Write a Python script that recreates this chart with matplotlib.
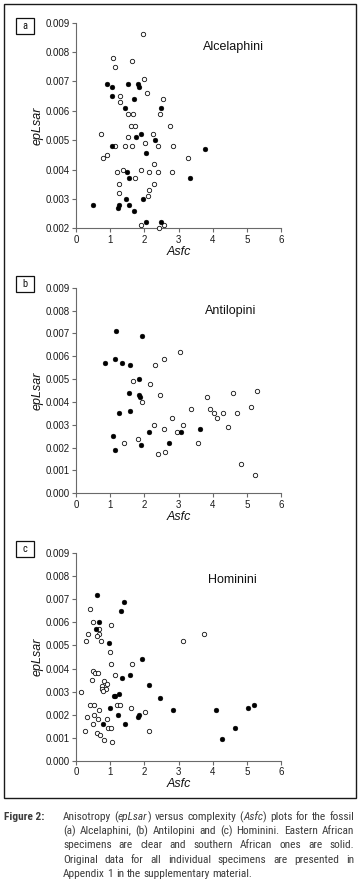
import matplotlib
matplotlib.use("Agg")
import matplotlib.pyplot as plt
from matplotlib.patches import Rectangle
from matplotlib import font_manager
from matplotlib.font_manager import FontProperties
import os

# ---------------- data ----------------
tribes = ["Alcelaphini", "Antilopini", "Hominini"]
panel_letters = ["a", "b", "c"]

a_east_x = [1.95, 1.07, 1.15, 1.63, 1.98, 2.07, 1.28, 1.28, 2.56, 1.51, 1.66, 2.45, 1.60, 1.74, 2.75,
            0.73, 2.25, 1.51, 2.01, 1.13, 1.42, 1.64, 2.40, 2.85, 0.91, 0.78, 3.28, 2.27, 1.39, 1.89,
            1.21, 2.13, 2.40, 2.82, 1.74, 1.27, 2.27, 2.13, 1.26, 2.11, 1.91, 2.57, 2.43]
a_east_y = [0.0086, 0.0078, 0.0075, 0.0077, 0.0071, 0.0066, 0.0065, 0.0063, 0.0064, 0.0059, 0.0059,
            0.0059, 0.0055, 0.0055, 0.0055, 0.0052, 0.0052, 0.0051, 0.0049, 0.0048, 0.0048, 0.0048,
            0.0048, 0.0048, 0.0045, 0.0044, 0.0044, 0.0042, 0.0040, 0.0040, 0.0039, 0.0039, 0.0039,
            0.0039, 0.0037, 0.0035, 0.0035, 0.0033, 0.0032, 0.0031, 0.0021, 0.0021, 0.0020]
a_south_x = [0.91, 1.06, 1.53, 1.81, 1.84, 1.05, 1.69, 1.43, 2.49, 1.89, 1.76, 2.30, 1.05, 3.77,
             2.04, 1.49, 1.54, 3.34, 0.50, 1.46, 1.95, 1.25, 1.23, 1.54, 1.69, 2.06, 2.50]
a_south_y = [0.0069, 0.0068, 0.0069, 0.0069, 0.0068, 0.0065, 0.0064, 0.0061, 0.0061, 0.0052, 0.0051,
             0.0050, 0.0048, 0.0047, 0.00455, 0.0039, 0.0037, 0.0037, 0.0028, 0.0030, 0.0030,
             0.0028, 0.0027, 0.0028, 0.0026, 0.0022, 0.0022]

b_east_x = [3.04, 2.32, 2.58, 1.68, 2.16, 1.94, 2.47, 4.59, 5.29, 3.83, 3.36, 3.92, 4.05, 4.29, 4.14,
            4.70, 5.13, 2.80, 2.27, 3.13, 4.46, 2.59, 2.97, 1.80, 1.41, 3.56, 2.41, 2.60, 4.82, 5.23]
b_east_y = [0.0062, 0.0056, 0.0059, 0.0049, 0.0048, 0.0040, 0.0043, 0.0044, 0.0045, 0.0042, 0.0037,
            0.0037, 0.0035, 0.0035, 0.0033, 0.0035, 0.0038, 0.0033, 0.0030, 0.0030, 0.0029, 0.0028,
            0.0027, 0.0024, 0.0022, 0.0022, 0.0017, 0.0018, 0.0013, 0.0008]
b_south_x = [1.18, 1.92, 0.86, 1.15, 1.35, 1.59, 1.83, 1.54, 1.84, 1.87, 1.27, 1.58, 3.63, 2.14,
             3.07, 1.07, 2.73, 1.90, 1.15]
b_south_y = [0.0071, 0.0069, 0.0057, 0.0059, 0.0057, 0.0056, 0.0050, 0.0044, 0.0043, 0.0042, 0.0035,
             0.0036, 0.0028, 0.0027, 0.0027, 0.0025, 0.0022, 0.0021, 0.0019]

c_east_x = [0.40, 0.50, 1.02, 0.66, 0.66, 0.35, 0.61, 0.30, 0.74, 3.12, 3.75, 1.00, 1.03, 1.64, 0.49,
            0.57, 0.64, 1.13, 0.46, 0.83, 0.90, 0.77, 0.87, 0.76, 0.80, 0.14, 0.42, 0.54, 1.21, 1.28,
            1.61, 0.68, 2.02, 0.54, 0.32, 0.64, 0.91, 0.51, 0.93, 1.01, 0.25, 2.13, 0.60, 0.69, 0.81,
            1.05]
c_east_y = [0.0066, 0.0060, 0.0059, 0.0057, 0.0055, 0.0055, 0.0054, 0.0052, 0.0052, 0.0052, 0.0055,
            0.0047, 0.0042, 0.0042, 0.0039, 0.0038, 0.0038, 0.0037, 0.0035, 0.00345, 0.00335,
            0.00323, 0.00313, 0.0031, 0.00304, 0.0030, 0.0024, 0.0024, 0.0024, 0.0024, 0.0023,
            0.0022, 0.0021, 0.0020, 0.0019, 0.0018, 0.0018, 0.0016, 0.0014, 0.0014, 0.0013, 0.0013,
            0.0012, 0.0011, 0.0009, 0.0008]
c_south_x = [0.60, 1.41, 1.33, 0.67, 0.58, 0.97, 1.92, 1.57, 1.35, 2.14, 1.25, 1.12, 1.15, 2.46,
             1.00, 2.85, 4.10, 5.02, 5.21, 1.23, 1.85, 1.82, 0.80, 1.43, 4.66, 4.26]
c_south_y = [0.0072, 0.0069, 0.0065, 0.0060, 0.0057, 0.0051, 0.0044, 0.0037, 0.0036, 0.0033, 0.0029,
             0.0028, 0.0028, 0.0027, 0.0023, 0.0022, 0.0022, 0.0023, 0.0024, 0.0020, 0.0020, 0.0019,
             0.0016, 0.0016, 0.0014, 0.00095]

x_ticks = [0, 1, 2, 3, 4, 5, 6]
a_y_ticks = [0.002, 0.003, 0.004, 0.005, 0.006, 0.007, 0.008, 0.009]
bc_y_ticks = [0.000, 0.001, 0.002, 0.003, 0.004, 0.005, 0.006, 0.007, 0.008, 0.009]
x_label = "Asfc"
y_label = "epLsar"

caption_head = "Figure 2:"
caption_lines = [
    [("Anisotropy (", "n"), ("epLsar", "i"), (") versus complexity (", "n"), ("Asfc", "i"),
     (") plots for the fossil", "n")],
    [("(a) Alcelaphini, (b) Antilopini and (c) Hominini. Eastern African", "n")],
    [("specimens are clear and southern African ones are solid.", "n")],
    [("Original data for all individual specimens are presented in", "n")],
    [("Appendix 1 in the supplementary material.", "n")],
]

# ---------------- fonts ----------------
FONT = "Liberation Sans"
by_base = {}
for f in font_manager.fontManager.ttflist:
    by_base.setdefault(os.path.basename(f.fname).lower(), f.fname)

narrow_sets = [
    ("LiberationSansNarrow-Regular.ttf", "LiberationSansNarrow-Italic.ttf", "LiberationSansNarrow-Bold.ttf"),
    ("ArchivoNarrow-Regular.ttf", "ArchivoNarrow-Italic.ttf", "ArchivoNarrow-Bold.ttf"),
    ("RobotoCondensed-Regular.ttf", "RobotoCondensed-Italic.ttf", "RobotoCondensed-Bold.ttf"),
    ("PTSansNarrow-Regular.ttf", "PTSans-Italic.ttf", "PTSansNarrow-Bold.ttf"),
    ("FiraSansCondensed-Regular.ttf", "FiraSansCondensed-Italic.ttf", "FiraSansCondensed-Bold.ttf"),
    ("IBMPlexSansCondensed-Regular.ttf", "IBMPlexSansCondensed-Italic.ttf", "IBMPlexSansCondensed-Bold.ttf"),
    ("NotoSans-Condensed.ttf", "NotoSans-CondensedItalic.ttf", "NotoSans-CondensedBold.ttf"),
    ("DejaVuSansCondensed.ttf", "DejaVuSansCondensed-Oblique.ttf", "DejaVuSansCondensed-Bold.ttf"),
    ("BarlowSemiCondensed-Regular.ttf", "BarlowSemiCondensed-Italic.ttf", "BarlowSemiCondensed-Bold.ttf"),
]
narrow_reg = narrow_it = narrow_bd = None
for r, it, b in narrow_sets:
    if r.lower() in by_base:
        narrow_reg = by_base[r.lower()]
        narrow_it = by_base.get(it.lower())
        narrow_bd = by_base.get(b.lower())
        break


def cap_fp(style, size):
    if style == "i" and narrow_it:
        return FontProperties(fname=narrow_it, size=size)
    if style == "b" and narrow_bd:
        return FontProperties(fname=narrow_bd, size=size)
    if style == "n" and narrow_reg:
        return FontProperties(fname=narrow_reg, size=size)
    return FontProperties(family=FONT, size=size,
                          style="italic" if style == "i" else "normal",
                          weight="bold" if style == "b" else "normal")


# ---------------- layout ----------------
W, H = 359, 891
fig = plt.figure(figsize=(W / 100, H / 100), dpi=100)
fig.patch.set_facecolor("white")


def fx(px):
    return px / W


def fy(py):
    return 1 - py / H


ax_left, ax_right = 76, 281
panels = [
    dict(top=22.7, bottom=228.3, ylim=(0.002, 0.009), yticks=a_y_ticks,
         ex=a_east_x, ey=a_east_y, sx=a_south_x, sy=a_south_y,
         title_xy=(4.6, 0.00818), box=(16, 18, 34, 33.5)),
    dict(top=287.8, bottom=493.3, ylim=(0.0, 0.009), yticks=bc_y_ticks,
         ex=b_east_x, ey=b_east_y, sx=b_south_x, sy=b_south_y,
         title_xy=(4.52, 0.0080), box=(16, 276, 34, 292)),
    dict(top=553.3, bottom=760.7, ylim=(0.0, 0.009), yticks=bc_y_ticks,
         ex=c_east_x, ey=c_east_y, sx=c_south_x, sy=c_south_y,
         title_xy=(4.57, 0.00785), box=(16, 541, 34, 557)),
]

spine_col = "#6a6a6a"
for i, p in enumerate(panels):
    ax = fig.add_axes([fx(ax_left), fy(p["bottom"]), fx(ax_right - ax_left),
                       (p["bottom"] - p["top"]) / H])
    ax.set_facecolor("none")
    ax.scatter(p["ex"], p["ey"], s=10, facecolors="white", edgecolors="#111111",
               linewidths=0.6, clip_on=False, zorder=3)
    ax.scatter(p["sx"], p["sy"], s=12, facecolors="black", edgecolors="black",
               linewidths=0.3, clip_on=False, zorder=4)
    ax.set_xlim(0, 6)
    ax.set_ylim(*p["ylim"])
    ax.set_xticks(x_ticks)
    ax.set_yticks(p["yticks"])
    ax.set_xticklabels([str(t) for t in x_ticks])
    ax.set_yticklabels(["%.3f" % t for t in p["yticks"]])
    for s in ["top", "right"]:
        ax.spines[s].set_visible(False)
    for s in ["left", "bottom"]:
        ax.spines[s].set_color(spine_col)
        ax.spines[s].set_linewidth(0.8)
    ax.tick_params(direction="out", length=3, width=0.8, color=spine_col,
                   labelsize=7, labelcolor="#1a1a1a", pad=1.5)
    for lab in ax.get_xticklabels() + ax.get_yticklabels():
        lab.set_fontfamily(FONT)
    ax.set_xlabel(x_label, fontsize=9, style="italic", family=FONT, labelpad=1, color="#111111")
    ax.set_ylabel(y_label, fontsize=9, style="italic", family=FONT, labelpad=1.5, color="#111111")
    ax.text(p["title_xy"][0], p["title_xy"][1], tribes[i], fontsize=9, family=FONT,
            ha="center", va="center", color="#111111")
    x0, y0, x1, y1 = p["box"]
    fig.add_artist(Rectangle((fx(x0), fy(y1)), fx(x1 - x0), (y1 - y0) / H,
                             transform=fig.transFigure, fill=False, edgecolor="#111111",
                             linewidth=0.9))
    fig.text(fx((x0 + x1) / 2), fy((y0 + y1) / 2), panel_letters[i],
             fontproperties=cap_fp("n", 7.5), ha="center", va="center", color="#111111")

# outer frame
fig.add_artist(Rectangle((fx(3.5), fy(798)), fx(352.5), (798 - 3.5) / H,
                         transform=fig.transFigure, fill=False, edgecolor="#1a1a1a",
                         linewidth=1.0))

# ---------------- caption (justified) ----------------
cap_col = "#3c3c3c"
line_y0 = 817
line_dy = 14.2
text_left, text_right = 63, 354

renderer = fig.canvas.get_renderer()


def measure(txt, style, size):
    t = fig.text(0, 0, txt, fontproperties=cap_fp(style, size))
    w = t.get_window_extent(renderer).width
    t.remove()
    return w


ref_size = 10.0
nat = sum(measure(txt, st, ref_size) for txt, st in caption_lines[0])
cap_size = min(9.0, ref_size * (text_right - text_left) * 0.975 / nat)

fig.text(fx(4.5), fy(line_y0), caption_head, fontproperties=cap_fp("b", cap_size),
         color=cap_col, ha="left", va="center")

space_w = measure("a a", "n", cap_size) - measure("aa", "n", cap_size)


def split_words(segs):
    words, cur = [], []
    for txt, st in segs:
        parts = txt.split(" ")
        for k, part in enumerate(parts):
            if k > 0:
                if cur:
                    words.append(cur)
                cur = []
            if part:
                cur.append((part, st))
    if cur:
        words.append(cur)
    return words


for li, segs in enumerate(caption_lines):
    y = fy(line_y0 + li * line_dy)
    words = split_words(segs)
    arts, widths = [], []
    for w in words:
        wa, tot = [], 0
        for txt, st in w:
            t = fig.text(0, y, txt, fontproperties=cap_fp(st, cap_size),
                         color=cap_col, ha="left", va="center")
            wd = t.get_window_extent(renderer).width
            wa.append((t, wd))
            tot += wd
        arts.append(wa)
        widths.append(tot)
    last = li == len(caption_lines) - 1
    if last or len(words) == 1:
        gap = space_w
    else:
        gap = (text_right - text_left - sum(widths)) / (len(words) - 1)
    x = text_left
    for wa, wt in zip(arts, widths):
        xx = x
        for t, wdt in wa:
            t.set_x(fx(xx))
            xx += wdt
        x += wt + gap

fig.savefig("out.png", dpi=100)
